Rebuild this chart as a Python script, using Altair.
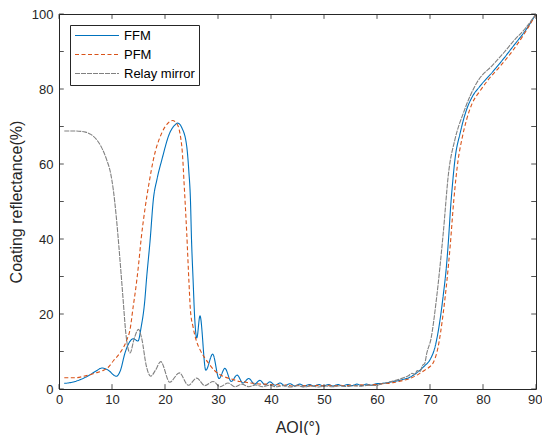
import altair as alt
import pandas as pd

# ---- data ----
ffm_x = [1, 2.5, 4, 5.5, 7, 8.1, 9.2, 10.8, 11.6, 12.45, 13.3, 14.0, 14.9, 15.5, 16.2, 16.5,
         17.2, 17.8, 18.5, 19.4, 20.9, 21.8, 22.4, 23.2, 24.1, 24.5, 24.8, 25.0, 25.3, 25.6,
         26.0, 26.6, 27.7, 29.0, 30.2, 31.3, 32.5, 33.6, 34.7, 35.8, 36.9, 37.9, 38.9, 39.8,
         40.8, 41.7, 42.6, 43.6, 44.5, 45.4, 46.3, 47.2, 48.1, 49.0, 49.9, 50.8, 51.7, 52.6,
         53.5, 54.4, 55.3, 56.2, 57.1, 58.0, 58.9, 59.8, 61, 62, 63, 64, 65, 66, 67, 68, 69,
         70, 71, 71.9, 72.5, 73.1, 73.5, 73.9, 74.3, 74.7, 75.7, 76.9, 78, 79.4, 81.9, 84,
         85.7, 88, 90]
ffm_y = [1.5, 1.8, 2.5, 3.5, 4.8, 5.6, 5.1, 3.4, 5.0, 9.6, 12.5, 13.4, 12.8, 16.5, 23.8, 29.1,
         39.8, 50.5, 56, 61.1, 68.3, 70.3, 70.9, 69.6, 64.7, 58, 50.5, 40, 29.1, 19,
         13.6, 19.5, 5.0, 9.3, 2.8, 5.5, 2.0, 3.7, 1.6, 2.8, 1.3, 2.3, 1.1, 1.9,
         1.0, 1.6, 0.9, 1.4, 0.8, 1.3, 0.8, 1.2, 0.8, 1.2, 0.8, 1.2, 0.8, 1.2,
         0.8, 1.2, 0.9, 1.3, 0.9, 1.3, 1.0, 1.4, 1.5, 1.7, 2.0, 2.2, 2.6, 3.0, 3.8, 4.9, 6.2,
         7.8, 11.5, 18.5, 25, 32.7, 40, 48.7, 55.5, 61.1, 68.3, 74.5, 78, 80.7, 84.7, 88.3,
         91.4, 95.6, 100]

pfm_x = [1, 3, 5, 7, 8.1, 9.3, 10.3, 11.5, 12.8, 13.4, 14.0, 14.5, 15.0, 15.5, 16.2, 17.0,
         17.8, 19.4, 20.5, 21.4, 22.3, 22.8, 23.3, 23.6, 24.1, 24.5, 24.8, 25.3, 26.0, 26.6,
         27.4, 28.2, 29.3, 30.4, 31.5, 32.9, 34.0, 35.0, 36.0, 37.0, 38.0, 39, 40, 41, 42,
         43, 44, 45, 46, 47, 48, 49, 50, 51, 52, 53, 54, 55, 56, 57, 58, 59, 60, 61, 62, 63,
         64, 65, 66, 67, 68, 69, 70, 70.6, 71.5, 72.5, 73.2, 73.8, 74.5, 75.3, 76, 76.9, 78,
         79.4, 81, 83.2, 85.7, 88, 90]
pfm_y = [3.0, 3.0, 3.5, 4.3, 4.8, 5.8, 7.6, 9.6, 13.1, 15.8, 22, 27, 33, 40, 47.8, 55,
         61.1, 68.3, 70.8, 71.6, 70.6, 68.3, 62.5, 54.9, 41.6, 29.1, 21, 16.5, 12.5, 10.5,
         8.5, 6.9, 5.0, 3.8, 3.1, 2.5, 2.0, 1.9, 1.6, 1.5, 1.3, 1.3, 1.1, 1.2, 0.9,
         1.1, 0.8, 1.0, 0.8, 1.0, 0.8, 1.0, 0.8, 1.0, 0.8, 1.0, 0.85, 1.05, 0.9, 1.1, 0.95, 1.15, 1.2, 1.4, 1.5, 1.7,
         2.0, 2.3, 2.7, 3.3, 4.1, 5.0, 6.0, 7.0, 11, 20.3, 29, 38, 50.5, 61, 66.5, 71.8, 76.3,
         79.4, 82.5, 86.0, 90.4, 95.2, 100]

relay_x = [1, 3, 5, 6, 7.1, 8, 9.0, 9.7, 10.25, 10.8, 11.3, 11.7, 12.1, 12.6, 13.4, 14.2, 15.0,
           15.6, 16.5, 17.3, 18.2, 19.2, 20.9, 22.7, 24.4, 26.0, 27.5, 29.1, 30.4, 31.9, 33.2,
           34.5, 35.8, 37.1, 38.4, 39.7, 41, 42.3, 43.6, 45, 46.3, 47.6, 49, 50.3, 51.6, 53,
           54.3, 55.6, 57, 58.3, 59.6, 61, 62, 63, 64, 65, 66, 66.6, 67.1, 67.6, 68.1, 68.6,
           69.0, 69.4, 70.2, 71.2, 72.5, 73.5, 74.7, 76.3, 78.8, 81.9, 84, 85.7, 88, 90]
relay_y = [68.8, 68.8, 68.5, 67.9, 66.5, 64.5, 61.1, 57.8, 53.1, 46, 38, 31, 23.8, 15, 9.6, 13.5, 15.9,
           13.5, 6.0, 3.4, 5.0, 7.3, 1.8, 4.3, 1.0, 2.9, 0.9, 2.0, 0.6, 1.6, 0.6,
           1.3, 0.6, 1.1, 0.6, 1.0, 0.6, 0.9, 0.55, 0.85, 0.55, 0.8, 0.55, 0.8, 0.6, 0.85,
           0.65, 0.9, 0.75, 1.0, 0.95, 1.4, 1.7, 2.1, 2.5, 3.0, 3.6, 4.2, 3.9, 4.9, 4.6, 6.3,
           6.8, 9.6, 13.5, 23.8, 41.6, 57.6, 66.5, 73.6, 81.6, 86.5, 89.8, 92.7, 96.2, 100]

series_names = ["FFM", "PFM", "Relay mirror"]
series_colors = ["#0072BD", "#D95319", "#808080"]
series_dash = [[1, 0], [4, 2.5], [5, 1]]

x_ticks = [0, 10, 20, 30, 40, 50, 60, 70, 80, 90]
y_ticks = [0, 10, 20, 30, 40, 50, 60, 70, 80, 90, 100]

# ---- tables ----
rows = []
for name, xs, ys in zip(series_names, [ffm_x, pfm_x, relay_x], [ffm_y, pfm_y, relay_y]):
    for i, (a, b) in enumerate(zip(xs, ys)):
        rows.append({"series": name, "aoi": a, "refl": b, "order": i})
df = pd.DataFrame(rows)

xt = pd.DataFrame({"t": x_ticks})
yt = pd.DataFrame({"t": y_ticks})

FONT = "Liberation Sans"
AX = "#262626"

xscale = alt.Scale(domain=[0, 90], nice=False, zero=False)
yscale = alt.Scale(domain=[0, 100], nice=False, zero=False)
last_x = x_ticks[-1]
x_axis = alt.Axis(
    title="AOI(°)", values=x_ticks, format="d", labelPadding=4,
    titlePadding=13, labelFlush=False, labelOverlap=False,
    labelAlign={"condition": {"test": f"datum.value == {last_x}", "value": "right"},
                "value": "center"},
    labelOffset={"condition": {"test": f"datum.value == {last_x}", "value": 6},
                 "value": 0},
)
y_axis = alt.Axis(title="Coating reflectance(%)", values=y_ticks, format="d",
                  labelPadding=6, titlePadding=7, labelFlush=False, labelOverlap=False)

lines = alt.Chart(df).mark_line(strokeWidth=1.1, interpolate="monotone", clip=True).encode(
    x=alt.X("aoi:Q", scale=xscale, axis=x_axis),
    y=alt.Y("refl:Q", scale=yscale, axis=y_axis),
    color=alt.Color("series:N", scale=alt.Scale(domain=series_names, range=series_colors),
                    legend=alt.Legend(title=None)),
    strokeDash=alt.StrokeDash("series:N", scale=alt.Scale(domain=series_names, range=series_dash),
                              legend=alt.Legend(title=None)),
    order="order:Q",
)

tick_len_y = 1.3
tick_len_x = 0.9

bottom_ticks = alt.Chart(xt).mark_rule(color=AX, strokeWidth=0.8).encode(
    x=alt.X("t:Q", scale=xscale, axis=x_axis), y=alt.datum(0), y2=alt.datum(tick_len_y))
top_ticks = alt.Chart(xt).mark_rule(color=AX, strokeWidth=0.8).encode(
    x=alt.X("t:Q", scale=xscale, axis=x_axis), y=alt.datum(100), y2=alt.datum(100 - tick_len_y))
left_ticks = alt.Chart(yt).mark_rule(color=AX, strokeWidth=0.8).encode(
    y=alt.Y("t:Q", scale=yscale, axis=y_axis), x=alt.datum(0), x2=alt.datum(tick_len_x))
right_ticks = alt.Chart(yt).mark_rule(color=AX, strokeWidth=0.8).encode(
    y=alt.Y("t:Q", scale=yscale, axis=y_axis), x=alt.datum(90), x2=alt.datum(90 - tick_len_x))

chart = alt.layer(lines, bottom_ticks, top_ticks, left_ticks, right_ticks).properties(
    width=477, height=375,
    autosize=alt.AutoSizeParams(type="none"),
    padding={"left": 51, "top": 6, "right": 6, "bottom": 46},
).configure_view(
    stroke=AX, strokeWidth=1
).configure_axis(
    domain=False, ticks=False, grid=False,
    labelFont=FONT, labelFontSize=13, labelColor=AX,
    titleFont=FONT, titleFontSize=16, titleColor=AX, titleFontWeight="normal",
).configure_legend(
    orient="none", legendX=11, legendY=11,
    symbolType="M-1,0H7", symbolSize=121, symbolStrokeWidth=1.1,
    labelFont=FONT, labelFontSize=13, labelColor="#000000", labelOffset=37,
    rowPadding=5, padding=4,
    fillColor="white", strokeColor=AX,
)

chart.save("out.html", embed_options={"renderer": "svg", "actions": False})
